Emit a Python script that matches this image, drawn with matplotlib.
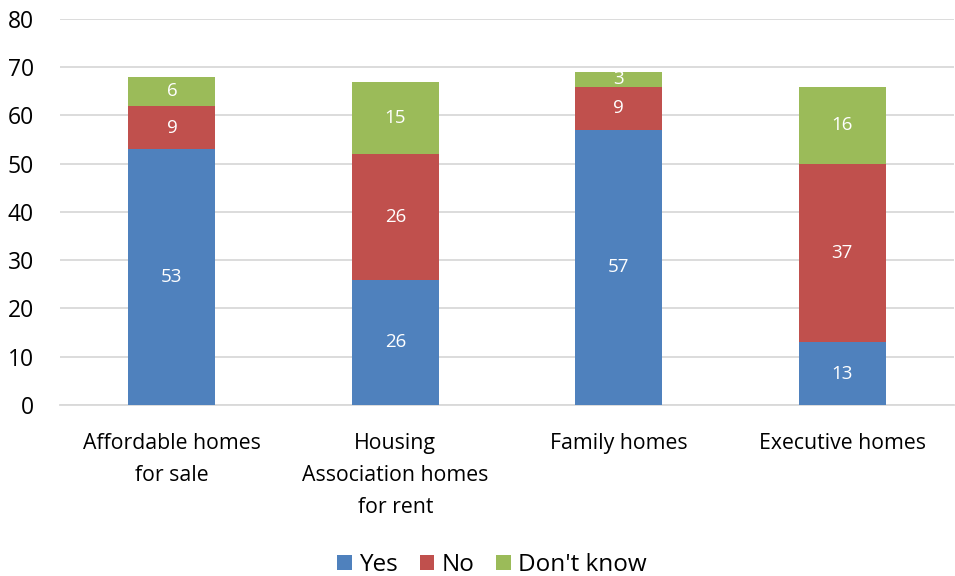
import numpy as np
import matplotlib.pyplot as plt

plt.rcParams['font.family'] = ['Open Sans', 'DejaVu Sans']

categories = ['Affordable homes\nfor sale', 'Housing\nAssociation homes\nfor rent',
              'Family homes', 'Executive homes']
yes = [53, 26, 57, 13]
no = [9, 26, 9, 37]
dont_know = [6, 15, 3, 16]

series = [('Yes', yes, '#4F81BD'), ('No', no, '#C0504D'), ("Don't know", dont_know, '#9BBB59')]

fig = plt.figure(figsize=(9.55, 5.76), dpi=100)
ax = fig.add_axes([0.063, 0.297, 0.936, 0.670])

x = np.arange(len(categories))
bottom = np.zeros(len(categories))
for name, vals, col in series:
    vals = np.array(vals, dtype=float)
    bars = ax.bar(x, vals, 0.39, bottom=bottom, color=col, label=name, zorder=3)
    for xi, b, v in zip(x, bottom, vals):
        ax.text(xi, b + v / 2, '%d' % v, ha='center', va='center',
                color='white', fontsize=13.5, zorder=4)
    bottom += vals

ax.set_xlim(-0.5, 3.5)
ax.set_ylim(0, 80)
ax.set_yticks(np.arange(0, 81, 10))
ax.yaxis.grid(True, color='#D9D9D9', linewidth=1.3, zorder=0)
ax.set_axisbelow(True)
for s in ['top', 'right', 'left']:
    ax.spines[s].set_visible(False)
ax.spines['bottom'].set_color('#D9D9D9')
ax.spines['bottom'].set_linewidth(1.3)
ax.tick_params(axis='both', length=0, colors='#000000')
ax.tick_params(axis='y', pad=19, labelsize=16.5)
ax.tick_params(axis='x', pad=20, labelsize=15.3)
ax.set_xticks(x)
ax.set_xticklabels(categories, linespacing=1.7)

fig.legend(loc='lower center', ncol=3, frameon=False, fontsize=17.5,
           bbox_to_anchor=(0.515, -0.04), handlelength=0.6, handleheight=0.6,
           handletextpad=0.3, columnspacing=0.9)

plt.savefig('out.png', dpi=100)
